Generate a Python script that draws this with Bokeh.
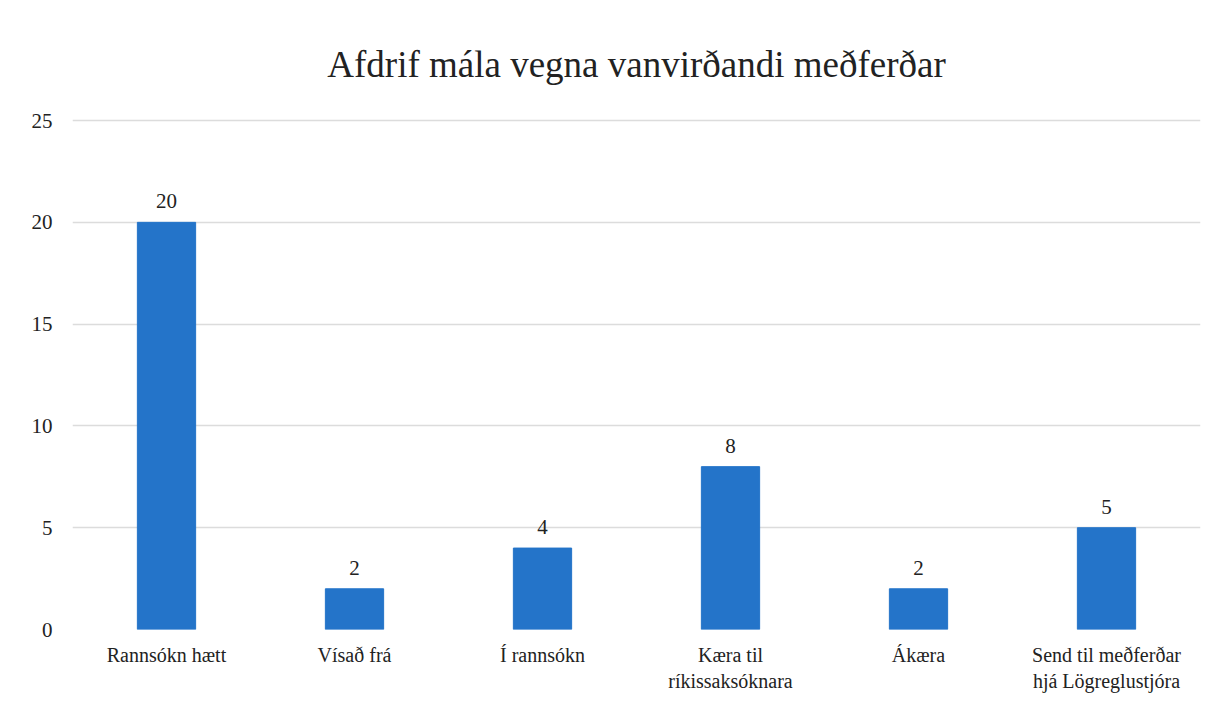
from bokeh.plotting import figure
from bokeh.models import ColumnDataSource, FactorRange, Range1d, FixedTicker
from bokeh.core.properties import value
from bokeh.embed import file_html
from bokeh.resources import INLINE

title = "Afdrif mála vegna vanvirðandi meðferðar"
categories = ["Rannsókn hætt", "Vísað frá", "Í rannsókn", "Kæra til\nríkissaksóknara", "Ákæra", "Send til meðferðar\nhjá Lögreglustjóra"]
values = [20, 2, 4, 8, 2, 5]
y_ticks = [0, 5, 10, 15, 20, 25]

src = ColumnDataSource(dict(x=categories, top=values, label=[str(v) for v in values]))

FONT = "'Times New Roman', 'Liberation Serif', serif"
p = figure(width=1202, height=694, x_range=FactorRange(factors=categories, range_padding=0),
           y_range=Range1d(0, 25.2), output_backend="svg", toolbar_location=None,
           min_border_left=72, min_border_right=2, min_border_top=116, min_border_bottom=64)
p.title.text = title
p.title.align = "center"
p.title.text_font = FONT
p.title.text_font_size = "37px"
p.title.text_font_style = "normal"
p.title.text_color = "#222222"
p.title.offset = 0
p.title.standoff = 64

p.vbar(x="x", top="top", width=0.31, source=src, color="#2474C9")
p.text(x="x", y="top", text="label", source=src, text_align="center", text_baseline="bottom",
       y_offset=-14, text_font=value(FONT), text_font_size="21px", text_color="#222222")

for ax in (p.xaxis, p.yaxis):
    ax.axis_line_color = None
    ax.major_tick_line_color = None
    ax.minor_tick_line_color = None
    ax.major_tick_out = 0
    ax.minor_tick_out = 0
    ax.major_label_text_font = FONT
    ax.major_label_text_color = "#222222"
p.xaxis.major_label_text_font_size = "20px"
p.yaxis.major_label_text_font_size = "21px"
p.yaxis.ticker = FixedTicker(ticks=y_ticks)
p.yaxis.major_label_standoff = 20
p.xaxis.major_label_standoff = 14
p.xgrid.grid_line_color = None
p.ygrid.grid_line_color = "#DCDCDC"
p.ygrid.grid_line_width = 1.5
p.outline_line_color = None
p.border_fill_color = "white"

open("out.html", "w").write(file_html(p, INLINE))
